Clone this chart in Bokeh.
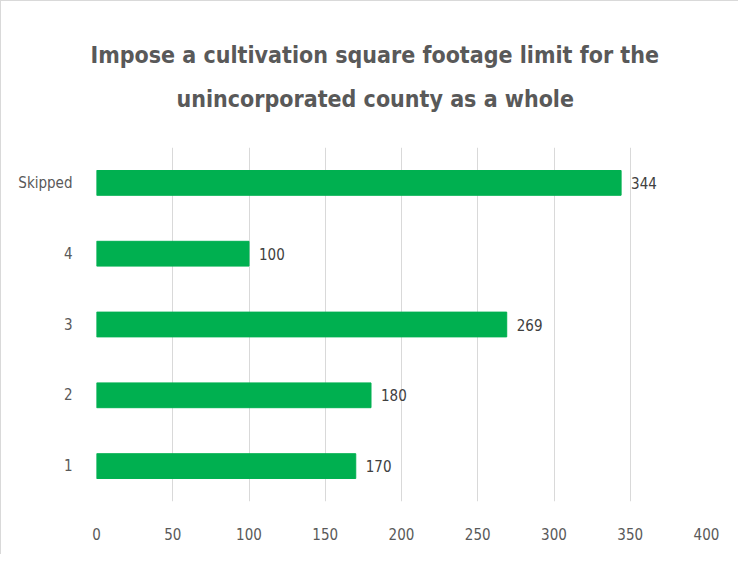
from bokeh.plotting import figure
from bokeh.models import ColumnDataSource, FactorRange, Range1d, FixedTicker, LabelSet, Title
from bokeh.core.properties import value
from bokeh.embed import file_html
from bokeh.resources import INLINE

categories = ["1", "2", "3", "4", "Skipped"]
counts = [170, 180, 269, 100, 344]
x_ticks = [0, 50, 100, 150, 200, 250, 300, 350, 400]
title_lines = ["Impose a  cultivation square footage limit for the",
               "unincorporated county as a whole"]

FONT = "DejaVu Sans Condensed"
GRAY = "#595959"

src = ColumnDataSource(data=dict(cat=categories, val=counts, lab=[str(v) for v in counts]))

p = figure(width=738, height=554, y_range=FactorRange(factors=categories),
           x_range=Range1d(0, 400), output_backend="svg", toolbar_location=None,
           min_border_left=95, min_border_right=33, min_border_top=146, min_border_bottom=54)
p.title.visible = False
p.outline_line_color = None

p.hbar(y="cat", right="val", height=0.35, left=0, source=src,
       fill_color="#00B050", line_color="#00B050")

labels = LabelSet(x="val", y="cat", text="lab", source=src, x_offset=10,
                  text_baseline="middle", text_font=value(FONT), text_font_size="15px",
                  text_color="#404040")
p.add_layout(labels)

p.xaxis.ticker = FixedTicker(ticks=x_ticks)
for ax in (p.xaxis, p.yaxis):
    ax.axis_line_color = None
    ax.major_tick_line_color = None
    ax.minor_tick_line_color = None
    ax.major_label_text_font = FONT
    ax.major_label_text_font_size = "15px"
    ax.major_label_text_color = GRAY
p.xaxis.major_label_standoff = 20
p.yaxis.major_label_standoff = 18

p.xgrid.grid_line_color = "#d9d9d9"
p.ygrid.grid_line_color = None

spacer = Title(text=" ", text_font=FONT, text_font_size="23px", standoff=0)
t2 = Title(text=title_lines[1], align="left", offset=80, text_font=FONT, text_font_size="23px",
           text_color=GRAY, text_font_style="bold", standoff=16)
t1 = Title(text=title_lines[0], align="left", offset=-6, text_font=FONT, text_font_size="23px",
           text_color=GRAY, text_font_style="bold", standoff=16)
p.add_layout(spacer, "above")
p.add_layout(t2, "above")
p.add_layout(t1, "above")

p.styles = {"border-top": "1px solid #d9d9d9", "border-left": "1px solid #d9d9d9"}

open("out.html", "w").write(file_html(p, INLINE))
